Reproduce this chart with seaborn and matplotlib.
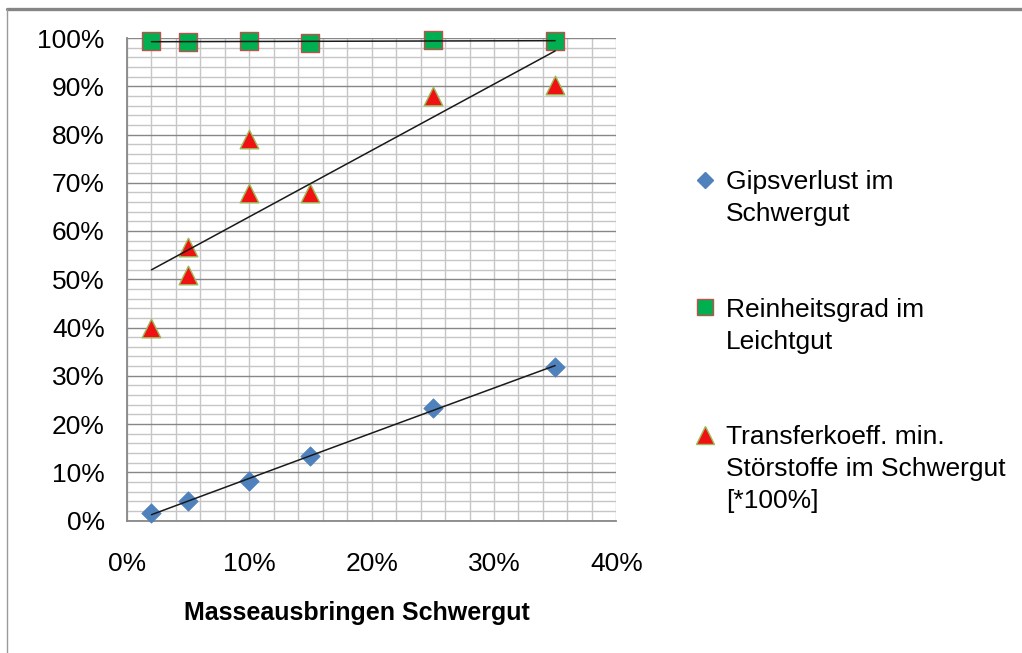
import numpy as np
import pandas as pd
import matplotlib
matplotlib.use("Agg")
import matplotlib.pyplot as plt
from matplotlib.lines import Line2D
from matplotlib.ticker import MultipleLocator, PercentFormatter
import seaborn as sns

# Masseausbringen Schwergut [%] and the three measured quantities [%]
x_gips = [2, 5, 10, 15, 25, 35]
gipsverlust = [1.5, 4.0, 8.2, 13.4, 23.3, 31.9]

x_rein = [2, 5, 10, 15, 25, 35]
reinheitsgrad = [99.4, 99.1, 99.4, 99.0, 99.6, 99.4]

x_transfer = [2, 5, 5, 10, 10, 15, 25, 35]
transferkoeff = [40.0, 56.7, 50.9, 79.1, 67.8, 67.9, 88.0, 90.3]

series_labels = [
    "Gipsverlust im\nSchwergut",
    "Reinheitsgrad im\nLeichtgut",
    "Transferkoeff. min.\nStörstoffe im Schwergut\n[*100%]",
]
x_label = "Masseausbringen Schwergut"

sns.set_style("white")
plt.rcParams["font.family"] = ["Liberation Sans", "DejaVu Sans"]
plt.rcParams["text.color"] = "black"

W, H = 1022, 653
fig = plt.figure(figsize=(W / 100, H / 100), dpi=100)
ax = fig.add_axes([127 / W, 1 - 520.5 / H, (616.3 - 127) / W, (520.5 - 38) / H])

blue, green, red = "#4F81BD", "#00B050", "#F01212"
green_edge, red_edge = "#C0504D", "#9BBB59"
line_kws = dict(color="#1a1a1a", lw=1.1, zorder=5)

df_g = pd.DataFrame({"x": x_gips, "y": gipsverlust})
df_r = pd.DataFrame({"x": x_rein, "y": reinheitsgrad})
df_t = pd.DataFrame({"x": x_transfer, "y": transferkoeff})

sns.regplot(data=df_g, x="x", y="y", order=2, ci=None, truncate=True, ax=ax,
            marker="D",
            scatter_kws=dict(s=98, color=blue, edgecolors=blue, linewidths=0.5,
                             clip_on=False, zorder=4, alpha=1),
            line_kws=line_kws)
sns.regplot(data=df_r, x="x", y="y", ci=None, truncate=True, ax=ax,
            marker="s",
            scatter_kws=dict(s=170, color=green, edgecolors=green_edge, linewidths=1.0,
                             clip_on=False, zorder=4, alpha=1),
            line_kws=line_kws)
sns.regplot(data=df_t, x="x", y="y", ci=None, truncate=True, ax=ax,
            marker="^",
            scatter_kws=dict(s=180, color=red, edgecolors=red_edge, linewidths=1.0,
                             clip_on=False, zorder=4, alpha=1),
            line_kws=line_kws)
for ln in ax.lines:
    ln.set_clip_on(False)

ax.set_xlim(0, 40)
ax.set_ylim(0, 100)
ax.xaxis.set_major_locator(MultipleLocator(10))
ax.xaxis.set_minor_locator(MultipleLocator(2))
ax.yaxis.set_major_locator(MultipleLocator(10))
ax.yaxis.set_minor_locator(MultipleLocator(2))
ax.xaxis.set_major_formatter(PercentFormatter(decimals=0))
ax.yaxis.set_major_formatter(PercentFormatter(decimals=0))

light, dark = "#c6c6c6", "#878787"
ax.grid(which="minor", axis="both", color=light, lw=1.0, zorder=0)
ax.grid(which="major", axis="x", color=light, lw=1.0, zorder=0)
ax.grid(which="major", axis="y", color=dark, lw=1.0, zorder=1)
ax.set_axisbelow(True)

ax.tick_params(which="major", axis="both", direction="out", length=5.5, width=1,
               color=dark, labelsize=19, labelcolor="black")
ax.tick_params(which="major", axis="y", pad=10.5)
ax.tick_params(which="major", axis="x", pad=17)
ax.tick_params(which="minor", length=0)
for side in ("top", "right"):
    ax.spines[side].set_visible(False)
for side in ("left", "bottom"):
    ax.spines[side].set_color(dark)
    ax.spines[side].set_linewidth(1.3)

ax.set_ylabel("")
ax.set_xlabel(x_label, fontsize=18, fontweight="bold", color="black")
ax.xaxis.set_label_coords((357 - 127) / (616.3 - 127), (520.5 - 601) / (520.5 - 38))

# legend: one row per text line, marker on the first line of each entry
markers = [("D", 8.0, blue, blue), ("s", 11.5, green, green_edge), ("^", 12.5, red, red_edge)]
handles, labels = [], []
for (mk, ms, fc, ec), text in zip(markers, series_labels):
    lines = text.split("\n")
    for i, part in enumerate(lines):
        if i == 0:
            handles.append(Line2D([], [], ls="none", marker=mk, markersize=ms,
                                  markerfacecolor=fc, markeredgecolor=ec, markeredgewidth=1))
        else:
            handles.append(Line2D([], [], ls="none"))
        labels.append(part)
    if text is not series_labels[-1]:
        for _ in range(4 - len(lines)):
            handles.append(Line2D([], [], ls="none"))
            labels.append(" ")

leg = fig.legend(handles, labels, loc="upper left",
                 bbox_to_anchor=(692 / W, 1 - 170 / H), bbox_transform=fig.transFigure,
                 frameon=False, fontsize=19, handlelength=1.0, handletextpad=0.3,
                 labelspacing=0.3, borderpad=0, borderaxespad=0, labelcolor="black")

# outer chart frame
fig.add_artist(Line2D([7 / W, 1], [1 - 9 / H, 1 - 9 / H], transform=fig.transFigure,
                      color="#858585", lw=2.4))
fig.add_artist(Line2D([7 / W, 7 / W], [0, 1 - 9 / H], transform=fig.transFigure,
                      color="#9a9a9a", lw=1.0))

fig.savefig("out.png", dpi=100, facecolor="white")
